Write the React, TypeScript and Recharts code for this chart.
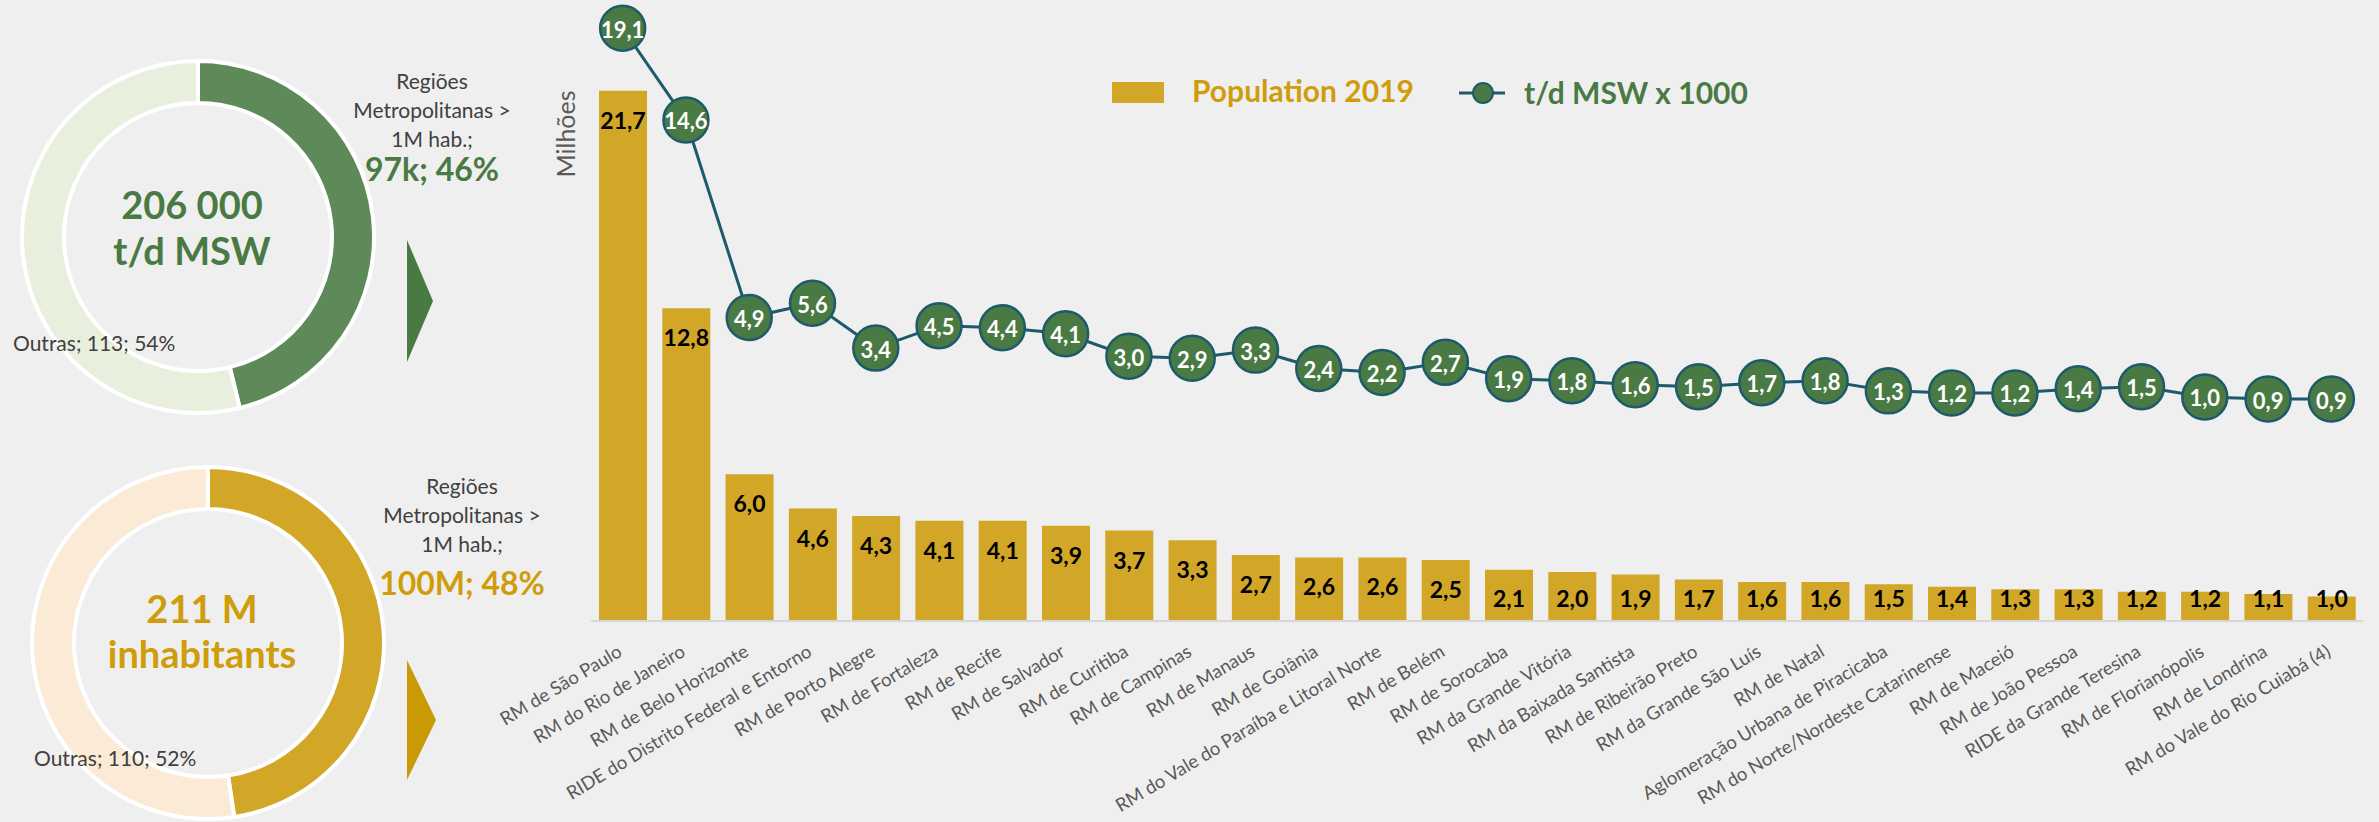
import React from 'react';
import { ComposedChart, Bar, Line, XAxis, YAxis, LabelList, PieChart, Pie, Cell } from 'recharts';

const categories = [
  'RM de São Paulo', 'RM do Rio de Janeiro', 'RM de Belo Horizonte', 'RIDE do Distrito Federal e Entorno',
  'RM de Porto Alegre', 'RM de Fortaleza', 'RM de Recife', 'RM de Salvador', 'RM de Curitiba',
  'RM de Campinas', 'RM de Manaus', 'RM de Goiânia', 'RM do Vale do Paraíba e Litoral Norte',
  'RM de Belém', 'RM de Sorocaba', 'RM da Grande Vitória', 'RM da Baixada Santista',
  'RM de Ribeirão Preto', 'RM da Grande São Luís', 'RM de Natal', 'Aglomeração Urbana de Piracicaba',
  'RM do Norte/Nordeste Catarinense', 'RM de Maceió', 'RM de João Pessoa', 'RIDE da Grande Teresina',
  'RM de Florianópolis', 'RM de Londrina', 'RM do Vale do Rio Cuiabá (4)',
];
const population2019 = [21.7, 12.8, 6.0, 4.6, 4.3, 4.1, 4.1, 3.9, 3.7, 3.3, 2.7, 2.6, 2.6, 2.5, 2.1, 2.0, 1.9, 1.7, 1.6, 1.6, 1.5, 1.4, 1.3, 1.3, 1.2, 1.2, 1.1, 1.0];
const mswTonsPerDay = [19.1, 14.6, 4.9, 5.6, 3.4, 4.5, 4.4, 4.1, 3.0, 2.9, 3.3, 2.4, 2.2, 2.7, 1.9, 1.8, 1.6, 1.5, 1.7, 1.8, 1.3, 1.2, 1.2, 1.4, 1.5, 1.0, 0.9, 0.9];

const seriesNames = ['Population 2019', 't/d MSW x 1000'];

const shareNames = ['Regiões Metropolitanas > 1M hab.', 'Outras'];
const mswShare = [97, 113];
const popShare = [100, 110];

const GOLD = '#d2a626';
const GOLD_TEXT = '#cf9d0b';
const GOLD_LIGHT = '#faead6';
const GREEN = '#5e8a59';
const GREEN_DARK = '#4a7a43';
const GREEN_LIGHT = '#e8f0dd';
const TEAL = '#1d5a6c';

const data = categories.map((name, i) => ({ name, pop: population2019[i], msw: mswTonsPerDay[i] }));
const mswPie = shareNames.map((name, i) => ({ name, value: mswShare[i] }));
const popPie = shareNames.map((name, i) => ({ name, value: popShare[i] }));

const fmt = (v: number) => v.toFixed(1).replace('.', ',');

const XTick = (props: any) => {
  const { x, y, payload } = props;
  const ax = x - 3;
  const ay = y + 20;
  return (
    <text
      x={ax}
      y={ay}
      transform={`rotate(-31, ${ax}, ${ay})`}
      textAnchor="end"
      dominantBaseline="central"
      fontSize={18.5}
      fill="#595959"
      fontFamily="Lato"
    >
      {payload.value}
    </text>
  );
};

const BarLabel = (props: any) => {
  const { x, y, width, height, value } = props;
  const cy = Math.min(y + 29, y + height - 23);
  return (
    <text x={x + width / 2} y={cy} textAnchor="middle" dominantBaseline="central" fontSize={23} fontWeight={700} fill="#000" fontFamily="Lato">
      {fmt(value)}
    </text>
  );
};

const LineLabel = (props: any) => {
  const { x, y, value } = props;
  return (
    <text x={x} y={y + 1} textAnchor="middle" dominantBaseline="central" fontSize={22} fontWeight={700} fill="#ffffff" fontFamily="Lato">
      {fmt(value)}
    </text>
  );
};

const Dot = (props: any) => {
  const { cx, cy, index } = props;
  return <circle key={`dot-${index}`} cx={cx} cy={cy} r={22.5} fill={GREEN_DARK} stroke={TEAL} strokeWidth={2.5} />;
};

const abs = (left: number, top: number, extra: React.CSSProperties = {}): React.CSSProperties => ({
  position: 'absolute',
  left,
  top,
  transform: 'translate(-50%, -50%)',
  whiteSpace: 'nowrap',
  ...extra,
});

export default function App() {
  return (
    <div
      style={{
        position: 'absolute',
        left: 0,
        top: 0,
        width: 2379,
        height: 822,
        background: '#efefef',
        overflow: 'hidden',
        fontFamily: 'Lato, "Open Sans", sans-serif',
      }}
    >
      {/* Top donut: MSW */}
      <div style={{ position: 'absolute', left: 3, top: 42 }}>
        <PieChart width={380} height={380}>
          <Pie
            data={mswPie}
            dataKey="value"
            cx={190}
            cy={190}
            innerRadius={134}
            outerRadius={176}
            startAngle={90}
            endAngle={-270}
            stroke="#ffffff"
            strokeWidth={4}
            isAnimationActive={false}
          >
            <Cell fill={GREEN} />
            <Cell fill={GREEN_LIGHT} />
          </Pie>
        </PieChart>
      </div>
      <div style={abs(192, 227, { textAlign: 'center', color: GREEN_DARK, fontWeight: 700, fontSize: 38, lineHeight: '46px' })}>
        206 000<br />t/d MSW
      </div>
      <div style={{ position: 'absolute', left: 13, top: 342, transform: 'translateY(-50%)', fontSize: 21, color: '#404040', whiteSpace: 'nowrap' }}>
        Outras; 113; 54%
      </div>
      <div style={abs(432, 109, { textAlign: 'center', fontSize: 21, lineHeight: '29px', color: '#404040' })}>
        Regiões<br />Metropolitanas &gt;<br />1M hab.;
      </div>
      <div style={abs(432, 168, { fontSize: 32, fontWeight: 700, color: GREEN_DARK })}>97k; 46%</div>

      {/* Bottom donut: population */}
      <div style={{ position: 'absolute', left: 13, top: 448 }}>
        <PieChart width={380} height={380}>
          <Pie
            data={popPie}
            dataKey="value"
            cx={190}
            cy={190}
            innerRadius={134}
            outerRadius={176}
            startAngle={90}
            endAngle={-270}
            stroke="#ffffff"
            strokeWidth={4}
            isAnimationActive={false}
          >
            <Cell fill={GOLD} />
            <Cell fill={GOLD_LIGHT} />
          </Pie>
        </PieChart>
      </div>
      <div style={abs(202, 631, { textAlign: 'center', color: GOLD_TEXT, fontWeight: 700, fontSize: 38, lineHeight: '45px' })}>
        211 M<br />inhabitants
      </div>
      <div style={{ position: 'absolute', left: 34, top: 757, transform: 'translateY(-50%)', fontSize: 21, color: '#404040', whiteSpace: 'nowrap' }}>
        Outras; 110; 52%
      </div>
      <div style={abs(462, 514, { textAlign: 'center', fontSize: 21, lineHeight: '29px', color: '#404040' })}>
        Regiões<br />Metropolitanas &gt;<br />1M hab.;
      </div>
      <div style={abs(462, 582, { fontSize: 32, fontWeight: 700, color: GOLD_TEXT })}>100M; 48%</div>

      {/* Arrows */}
      <svg style={{ position: 'absolute', left: 0, top: 0 }} width={500} height={822}>
        <polygon points="407,240 433,301 407,362" fill={GREEN_DARK} />
        <polygon points="407,660 436,720 407,780" fill="#c99a04" />
      </svg>

      {/* Main chart */}
      <div style={{ position: 'absolute', left: 0, top: 0 }}>
        <ComposedChart
          width={2379}
          height={822}
          data={data}
          margin={{ top: 10, right: 16, bottom: 0, left: 591 }}
          barSize={48}
        >
          <XAxis
            dataKey="name"
            interval={0}
            height={201}
            tickLine={false}
            axisLine={{ stroke: '#d6d6d6', strokeWidth: 2 }}
            tick={<XTick />}
          />
          <YAxis yAxisId="pop" domain={[0, 25]} hide />
          <YAxis yAxisId="msw" domain={[-10, 20]} hide orientation="right" />
          <Bar yAxisId="pop" dataKey="pop" name={seriesNames[0]} fill={GOLD} isAnimationActive={false}>
            <LabelList dataKey="pop" content={<BarLabel />} />
          </Bar>
          <Line
            yAxisId="msw"
            dataKey="msw"
            name={seriesNames[1]}
            stroke={TEAL}
            strokeWidth={3}
            dot={<Dot />}
            activeDot={false}
            isAnimationActive={false}
          >
            <LabelList dataKey="msw" content={<LineLabel />} />
          </Line>
        </ComposedChart>
      </div>

      {/* Y axis title */}
      <div style={abs(565, 134, { transform: 'translate(-50%, -50%) rotate(-90deg)', fontSize: 25, fontWeight: 400, color: '#595959' })}>
        Milhões
      </div>

      {/* Legend */}
      <div style={{ position: 'absolute', left: 1112, top: 82, width: 52, height: 21, background: GOLD }} />
      <div style={{ position: 'absolute', left: 1192, top: 90, transform: 'translateY(-50%)', fontSize: 30, fontWeight: 700, color: GOLD_TEXT, whiteSpace: 'nowrap' }}>
        {seriesNames[0]}
      </div>
      <svg style={{ position: 'absolute', left: 1455, top: 78 }} width={56} height={30}>
        <line x1={4} y1={15} x2={50} y2={15} stroke={TEAL} strokeWidth={3} />
        <circle cx={28} cy={15} r={10} fill={GREEN_DARK} stroke={TEAL} strokeWidth={2} />
      </svg>
      <div style={{ position: 'absolute', left: 1524, top: 92, transform: 'translateY(-50%)', fontSize: 30, fontWeight: 700, color: GREEN_DARK, whiteSpace: 'nowrap' }}>
        {seriesNames[1]}
      </div>
    </div>
  );
}
